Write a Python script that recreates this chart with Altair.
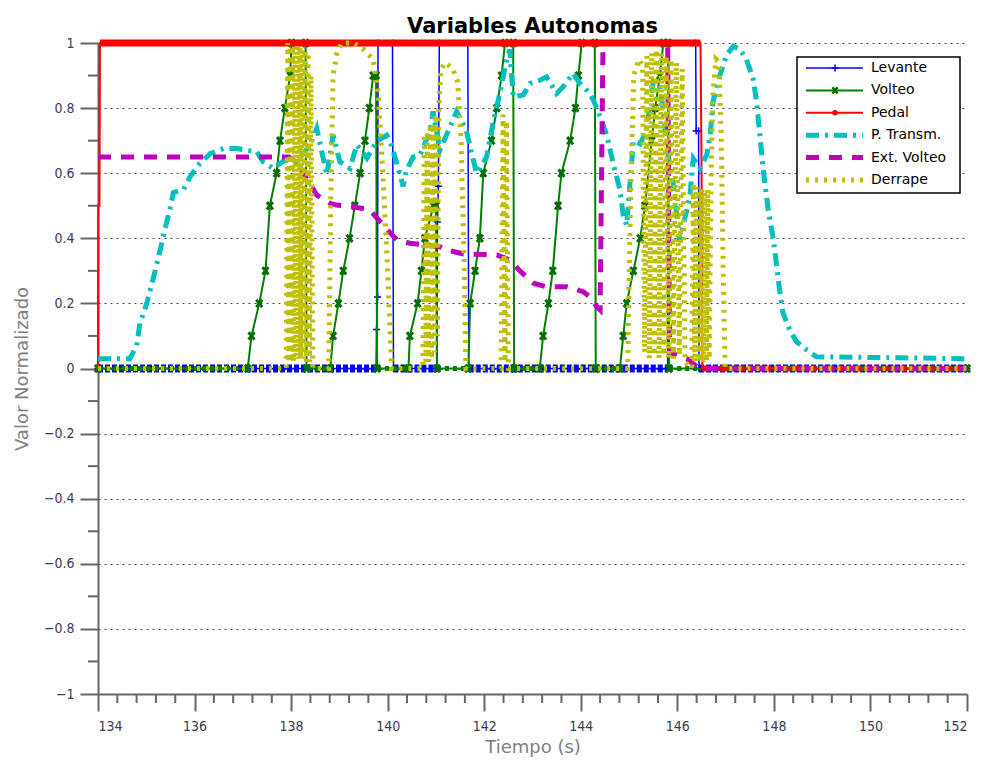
import altair as alt
import pandas as pd

# ---------------- data ----------------
lev_t = [134.0, 139.76, 139.77, 139.79, 139.80, 140.10, 140.12, 141.02, 141.03, 141.05, 141.07,
         141.66, 141.68, 145.80, 145.82, 146.38, 146.39, 146.44, 146.45, 152.0]
lev_v = [0, 0, 0.12, 0.22, 1.0, 1.0, 0, 0, 0.45, 0.56, 1.0,
         1.0, 0, 0, 1.0, 1.0, 0.73, 0.73, 0, 0]

vol_t = [134.0, 137.10, 137.18, 137.34, 137.47, 137.56, 137.70, 137.77, 137.87, 137.98, 138.01, 138.30, 138.32,
         138.81, 138.87, 138.98, 139.08, 139.21, 139.32, 139.43, 139.53, 139.62, 139.70, 139.76, 139.78,
         140.43, 140.46, 140.62, 140.70, 140.77, 140.95, 141.00, 141.02,
         141.67, 141.71, 141.81, 141.91, 141.98, 142.15, 142.26, 142.36, 142.43, 142.60, 142.62,
         143.15, 143.22, 143.33, 143.42, 143.53, 143.60, 143.78, 143.89, 143.95, 144.02, 144.29, 144.31,
         144.81, 144.88, 144.95, 145.09, 145.23, 145.33, 145.47, 145.54, 145.64, 145.71, 145.81, 145.83, 152.0]
vol_v = [0, 0, 0.1, 0.2, 0.3, 0.5, 0.6, 0.7, 0.8, 0.9, 1.0, 1.0, 0,
         0, 0.1, 0.2, 0.3, 0.4, 0.5, 0.6, 0.7, 0.8, 0.9, 0.9, 0,
         0, 0.1, 0.2, 0.3, 0.4, 0.5, 0.5, 0,
         0, 0.2, 0.3, 0.4, 0.6, 0.7, 0.8, 0.9, 1.0, 1.0, 0,
         0, 0.1, 0.2, 0.3, 0.5, 0.6, 0.7, 0.8, 0.9, 1.0, 1.0, 0,
         0, 0.1, 0.2, 0.3, 0.4, 0.5, 0.7, 0.8, 0.9, 1.0, 1.0, 0, 0]

ped_t = [134.0, 134.005, 134.03, 134.04, 146.48, 146.50, 146.52, 152.0]
ped_v = [0, 0.5, 0.5, 1.0, 1.0, 0.65, 0, 0]

pt_t = [134.0, 134.66, 134.80, 134.87, 135.01, 135.15, 135.28, 135.39, 135.49, 135.56,
        135.77, 135.91, 136.11, 136.32, 136.60, 136.87, 137.08, 137.29, 137.42, 137.63,
        137.87, 138.12, 138.39, 138.53, 138.74, 138.87, 139.01, 139.22, 139.36, 139.57,
        139.77, 139.98, 140.05, 140.19, 140.32, 140.39, 140.53, 140.67, 140.88, 140.94,
        141.08, 141.43, 141.63, 141.84, 142.05, 142.19, 142.33, 142.47, 142.53, 142.60,
        142.81, 142.95, 143.16, 143.29, 143.50, 143.64, 143.84, 143.98, 144.12, 144.26,
        144.40, 144.54, 144.67, 144.81, 144.88, 144.95, 145.09, 145.23, 145.36, 145.50,
        145.64, 145.71, 145.78, 145.91, 146.05, 146.26, 146.33, 146.47, 146.61, 146.68,
        146.74, 146.88, 147.02, 147.16, 147.30, 147.43, 147.57, 147.64, 147.71, 147.78,
        147.88, 147.99, 148.05, 148.12, 148.19, 148.33, 148.47, 148.68, 148.88, 149.37,
        150.61, 152.0]
pt_v = [0.03, 0.03, 0.07, 0.14, 0.20, 0.28, 0.36, 0.43, 0.49, 0.54,
        0.55, 0.59, 0.63, 0.66, 0.676, 0.676, 0.67, 0.666, 0.635, 0.615,
        0.64, 0.635, 0.687, 0.738, 0.594, 0.717, 0.635, 0.615, 0.687, 0.646,
        0.697, 0.717, 0.70, 0.63, 0.56, 0.61, 0.65, 0.656, 0.73, 0.79,
        0.67, 0.79, 0.73, 0.60, 0.65, 0.76, 0.85, 0.95, 0.98, 0.835,
        0.84, 0.876, 0.886, 0.896, 0.845, 0.866, 0.907, 0.876, 0.856, 0.825,
        0.774, 0.717, 0.63, 0.55, 0.47, 0.44, 0.70, 0.69, 0.73, 0.88,
        0.87, 0.79, 0.68, 0.57, 0.39, 0.53, 0.645, 0.615, 0.656, 0.717,
        0.82, 0.90, 0.963, 0.99, 0.98, 0.95, 0.89, 0.82, 0.717, 0.61,
        0.49, 0.395, 0.323, 0.24, 0.17, 0.118, 0.082, 0.057, 0.036, 0.035,
        0.033, 0.03]

ev_t = [134.0, 137.95, 138.12, 138.32, 138.53, 138.81, 138.94, 139.29, 139.63, 139.91,
        140.19, 140.46, 141.08, 141.22, 141.57, 142.26, 142.53, 142.74, 143.02, 143.29,
        143.71, 144.05, 144.19, 144.33, 144.40, 144.46, 145.80, 145.84, 146.20, 146.45, 152.0]
ev_v = [0.65, 0.65, 0.635, 0.584, 0.533, 0.507, 0.502, 0.497, 0.487, 0.44,
        0.395, 0.385, 0.374, 0.364, 0.352, 0.349, 0.333, 0.30, 0.262, 0.251,
        0.251, 0.236, 0.22, 0.19, 0.18, 1.0, 1.0, 0.05, 0.03, 0.0, 0.0]

dr_t = [134.0, 137.90, 137.93, 137.95, 137.98, 138.00, 138.03, 138.05, 138.08, 138.10, 138.13,
        138.15, 138.18, 138.20, 138.23, 138.26, 138.29, 138.32, 138.35, 138.38, 138.41, 138.45,
        138.78, 138.82, 138.87, 138.95, 139.05, 139.30, 139.50, 139.70, 139.80, 139.90, 140.00, 140.08,
        140.73, 140.76, 140.79, 140.82, 140.85, 140.88, 140.91, 140.94, 140.97, 141.00, 141.03, 141.06,
        141.10, 141.20, 141.35, 141.45, 141.52, 141.58, 141.62,
        142.35, 142.39, 142.43, 142.46, 142.50,
        144.97, 145.04, 145.10, 145.20, 145.28, 145.32, 145.37, 145.42, 145.47, 145.52, 145.57,
        145.62, 145.67, 145.72, 145.77, 145.82, 145.87, 145.92, 145.98, 146.04, 146.10, 146.16,
        146.30, 146.33, 146.36, 146.39, 146.42, 146.45, 146.48, 146.51, 146.54, 146.57, 146.60,
        146.63, 146.66, 146.70, 146.74, 146.80, 146.86, 146.91, 146.95, 146.99, 152.0]
dr_v = [0, 0, 1.0, 0.02, 0.99, 0.02, 0.99, 0.02, 0.99, 0.03, 0.99,
        0.03, 0.99, 0.03, 0.98, 0.03, 0.98, 0.02, 0.97, 0.02, 0.90, 0,
        0, 0.5, 0.9, 0.97, 1.0, 1.0, 0.98, 0.95, 0.85, 0.6, 0.3, 0,
        0, 0.72, 0.02, 0.73, 0.02, 0.75, 0.03, 0.75, 0.05, 0.78, 0.10, 0.80,
        0.92, 0.94, 0.92, 0.88, 0.70, 0.35, 0,
        0, 0.78, 0.02, 0.76, 0,
        0, 0.6, 0.9, 0.95, 0.93, 0.05, 0.96, 0.03, 0.97, 0.04, 0.98,
        0.03, 0.97, 0.04, 0.96, 0.03, 0.95, 0.03, 0.94, 0.04, 0.92, 0.02,
        0, 0.57, 0.02, 0.56, 0.02, 0.55, 0.02, 0.55, 0.02, 0.54, 0.02,
        0.55, 0.03, 0.6, 0.85, 0.95, 0.94, 0.7, 0.3, 0, 0]

names = ["Levante", "Volteo", "Pedal", "P. Transm.", "Ext. Volteo", "Derrape"]
colors = ["#0000ff", "#008000", "#ff0000", "#00bfbf", "#bf00bf", "#bfbf00"]
title_text = "Variables Autonomas"

x_major = [134, 136, 138, 140, 142, 144, 146, 148, 150, 152]
y_major = [-1, -0.8, -0.6, -0.4, -0.2, 0, 0.2, 0.4, 0.6, 0.8, 1]
x_minor = [round(134 + 0.4 * k, 1) for k in range(46) if k % 5 != 0]
y_minor = [-0.9, -0.7, -0.5, -0.3, -0.1, 0.1, 0.3, 0.5, 0.7, 0.9]

# ---------------- layout ----------------
W, H = 869, 651
FONT = "DejaVu Sans Condensed, DejaVu Sans"
AX = "#666666"

xs = alt.Scale(domain=[134, 152], nice=False, zero=False)
ys = alt.Scale(domain=[-1, 1], nice=False, zero=False)
xaxis = alt.Axis(values=x_major, format="d", title="Tiempo (s)", grid=False,
                 tickSize=17, tickWidth=2, tickColor=AX, domainColor=AX, domainWidth=2,
                 labelFont=FONT, labelFontSize=14, labelColor="#3c3c50", labelPadding=8,
                 titleFont="DejaVu Sans", titleFontSize=18, titleFontWeight="normal",
                 titleColor="#808080", titlePadding=5)
yaxis = alt.Axis(values=y_major, format="~g", title="Valor Normalizado", grid=True,
                 gridDash=[2, 4], gridColor="#444444", gridWidth=1,
                 tickSize=18, tickWidth=2, tickColor=AX, domainColor=AX, domainWidth=2,
                 labelFont=FONT, labelFontSize=14, labelColor="#3c3c50", labelPadding=6,
                 titleFont="DejaVu Sans", titleFontSize=18, titleFontWeight="normal",
                 titleColor="#808080", titlePadding=12)
X = alt.X("t:Q", scale=xs, axis=xaxis)
Y = alt.Y("v:Q", scale=ys, axis=yaxis)


def frame(t, v):
    return pd.DataFrame({"t": t, "v": v, "i": list(range(len(t)))})


def runs(t, v, level):
    """Stretches where a series holds a constant level (marker trains)."""
    rows = []
    for k in range(len(t) - 1):
        if v[k] == level and v[k + 1] == level:
            rows.append({"t": t[k], "v": level, "seg": k, "i": 0})
            rows.append({"t": t[k + 1], "v": level, "seg": k, "i": 1})
    return pd.DataFrame(rows)


def line(data, color, width, dash=None, detail=False):
    kw = dict(color=color, strokeWidth=width, clip=False)
    if dash:
        kw["strokeDash"] = dash
    enc = dict(x=X, y=Y, order="i:Q")
    if detail:
        enc["detail"] = "seg:N"
    return alt.Chart(data).mark_line(**kw).encode(**enc)


PLUS = "M-1,0L1,0M0,-1L0,1"
CROSS = "M-0.8,-1L0.8,1M-0.8,1L0.8,-1"

layers = []
# minor ticks
layers.append(alt.Chart(pd.DataFrame({"t": x_minor})).mark_rule(color=AX, strokeWidth=2)
              .encode(x=X, y=alt.value(H), y2=alt.value(H + 9)))
layers.append(alt.Chart(pd.DataFrame({"v": y_minor})).mark_rule(color=AX, strokeWidth=2)
              .encode(y=Y, x=alt.value(-10), x2=alt.value(0)))

# Levante
lev = frame(lev_t, lev_v)
layers.append(line(runs(lev_t, lev_v, 0), colors[0], 8, [5, 2], detail=True))
layers.append(line(lev, colors[0], 1.5))
layers.append(alt.Chart(lev).mark_point(shape=PLUS, size=50, filled=False, color=colors[0],
                                        strokeWidth=1.5, opacity=1).encode(x=X, y=Y))
# Volteo
vol = frame(vol_t, vol_v)
layers.append(line(runs(vol_t, vol_v, 0), colors[1], 5, [4, 4], detail=True))
layers.append(line(vol, colors[1], 2))
layers.append(alt.Chart(vol).mark_point(shape=CROSS, size=55, filled=False, color="#006e00",
                                        strokeWidth=3, opacity=1).encode(x=X, y=Y))
# Pedal
ped = frame(ped_t, ped_v)
layers.append(line(runs(ped_t, ped_v, 0), colors[2], 6, [6, 3], detail=True))
layers.append(line(ped, colors[2], 2))
# P. Transm.
layers.append(line(frame(pt_t, pt_v), colors[3], 5, [13, 6, 3, 6]))
# Ext. Volteo
layers.append(line(frame(ev_t, ev_v), colors[4], 5, [13, 10]))
# Pedal marker train at the top
layers.append(line(runs(ped_t, ped_v, 1.0), colors[2], 7, detail=True))
# Derrape
layers.append(line(frame(dr_t, dr_v), colors[5], 5, [3, 6]))

# ---------------- title ----------------
layers.append(alt.Chart(pd.DataFrame({"n": [title_text]}))
              .mark_text(align="center", baseline="alphabetic", font="DejaVu Sans", fontSize=21,
                         fontWeight="bold", color="black")
              .encode(x=alt.value(W / 2), y=alt.value(-10), text="n:N"))

# ---------------- legend ----------------
one = pd.DataFrame({"k": [0]})
LX0, LX1, LY0, LY1 = 699, 862, 14, 150
layers.append(alt.Chart(one).mark_rect(fill="white", stroke="black", strokeWidth=1.5)
              .encode(x=alt.value(LX0), x2=alt.value(LX1), y=alt.value(LY0), y2=alt.value(LY1)))
leg_dash = [None, None, None, [13, 6, 3, 6], [13, 10], [3, 6]]
leg_w = [1.5, 2, 2, 5, 5, 5]
for r, nm in enumerate(names):
    yy = 25 + r * 22.4
    kw = dict(color=colors[r], strokeWidth=leg_w[r])
    if leg_dash[r]:
        kw["strokeDash"] = leg_dash[r]
    layers.append(alt.Chart(one).mark_rule(**kw)
                  .encode(x=alt.value(708), x2=alt.value(765), y=alt.value(yy)))
    if r == 0:
        layers.append(alt.Chart(one).mark_point(shape=PLUS, size=50, filled=False, color=colors[0],
                                                strokeWidth=1.5, opacity=1)
                      .encode(x=alt.value(737), y=alt.value(yy)))
    if r == 1:
        layers.append(alt.Chart(one).mark_point(shape=CROSS, size=40, filled=False, color="#006e00",
                                                strokeWidth=2.5, opacity=1)
                      .encode(x=alt.value(737), y=alt.value(yy)))
    if r == 2:
        layers.append(alt.Chart(one).mark_point(shape="circle", size=30, filled=True, color=colors[2],
                                                opacity=1)
                      .encode(x=alt.value(737), y=alt.value(yy)))
    layers.append(alt.Chart(pd.DataFrame({"n": [nm]}))
                  .mark_text(align="left", baseline="middle", font="DejaVu Sans", fontSize=14,
                             color="black")
                  .encode(x=alt.value(773), y=alt.value(yy), text="n:N"))

chart = (alt.layer(*layers)
         .properties(width=W, height=H,
                     padding={"left": 98, "top": 43, "right": 15, "bottom": 68},
                     autosize=alt.AutoSizeParams(type="none"),
                     background="white")
         .configure_view(stroke=None))

chart.save("out.html", embed_options={"renderer": "svg", "actions": False})
